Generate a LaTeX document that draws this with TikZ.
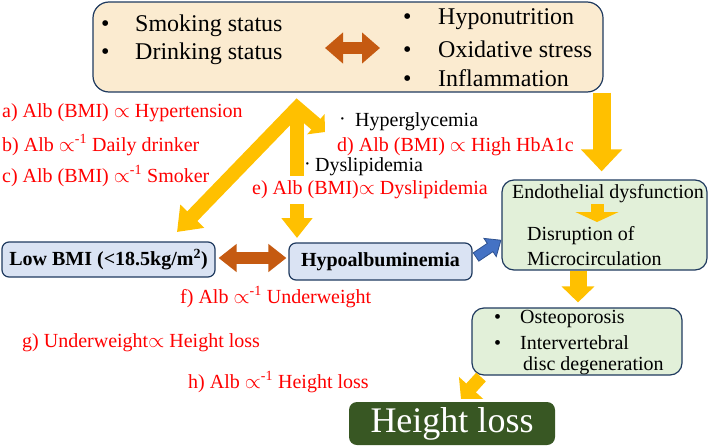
\documentclass[tikz,border=0pt]{standalone}
\usepackage{fontspec}
\setmainfont{Liberation Serif}
\usetikzlibrary{arrows.meta}
\definecolor{yel}{HTML}{FFC000}
\definecolor{org}{HTML}{C55A11}
\definecolor{bord}{HTML}{1F3A5F}
\definecolor{topfill}{HTML}{FBEBD0}
\definecolor{grn}{HTML}{E2F0D9}
\definecolor{blu}{HTML}{DAE3F3}
\definecolor{dkgrn}{HTML}{385723}
\definecolor{bluarr}{HTML}{4472C4}
\definecolor{bluarrb}{HTML}{2F528F}
\begin{document}
\begin{tikzpicture}[x=1pt,y=-1pt,
  box/.style={draw=bord,line width=1.2pt,rounded corners=7pt,inner sep=0pt},
  txt/.style={inner sep=0pt,anchor=west,font=\fontsize{20}{24}\selectfont},
  big/.style={inner sep=0pt,anchor=west,font=\fontsize{24}{28}\selectfont},
  redtxt/.style={txt,text=red},
  boldtxt/.style={font=\bfseries\fontsize{20}{24}\selectfont}
]
\useasboundingbox (0,0) rectangle (708,447);

% boxes
\node[box,fill=topfill,rounded corners=16pt,minimum width=510pt,minimum height=90pt] (top) at (348,47) {};
\node[box,fill=blu,minimum width=213pt,minimum height=35pt,boldtxt] (lowbmi) at (108.5,259.5) {Low BMI (<18.5kg/m\textsuperscript{2})};
\node[box,fill=blu,minimum width=183pt,minimum height=37pt,boldtxt] (hypo) at (380.5,261.5) {Hypoalbuminemia};
\node[box,fill=grn,rounded corners=12pt,minimum width=205pt,minimum height=90pt] (green1) at (604.5,225) {};
\node[box,fill=grn,rounded corners=12pt,minimum width=210pt,minimum height=67pt] (green2) at (577,341.5) {};
\node[box,draw=none,fill=dkgrn,rounded corners=8pt,minimum width=206pt,minimum height=43pt,text=white,font=\fontsize{36}{40}\selectfont] (hl) at (452,423.5) {Height loss};

% top box text
\node[big] (smk) at (101,26) {\makebox[34pt][l]{•}Smoking status};
\node[big] (drk) at (101,54) {\makebox[34pt][l]{•}Drinking status};
\node[big] (hyn) at (403,19) {\makebox[35pt][l]{•}Hyponutrition};
\node[big] (oxs) at (403,49) {\makebox[35pt][l]{•}Oxidative stress};
\node[big] (inf) at (403,78) {\makebox[35pt][l]{•}Inflammation};
\coordinate (da1) at (325,48);
\coordinate (da2) at (380,48);
\draw[org,line width=12pt,{Triangle[width=30pt,length=18pt]}-{Triangle[width=30pt,length=18pt]}] (da1) -- (da2);

% green box texts
\node[txt] (endo) at (512,194) {Endothelial dysfunction};
\node[txt] (disr) at (527,236) {Disruption of};
\node[txt] (micro) at (527,259) {Microcirculation};
\node[txt] (ost) at (494,319) {\makebox[26pt][l]{•}Osteoporosis};
\node[txt] (ivd) at (494,343) {\makebox[26pt][l]{•}Intervertebral};
\node[txt] (disc) at (523,366) {disc degeneration};

% yellow tree from top box
\coordinate (apex) at (297,108);
\coordinate (ltip) at (177,232);
\coordinate (rtip) at (325,132);
\coordinate (vtip) at (297,238);
\draw[yel,line width=14pt,line join=miter,{Triangle[width=32pt,length=22pt]}-{Triangle[width=26pt,length=12pt]}] (ltip) -- (apex) -- (rtip);
\draw[yel,line width=14pt,-{Triangle[width=30pt,length=20pt]}] (apex) -- (vtip);

% right yellow arrow
\draw[yel,line width=18pt,-{Triangle[width=40pt,length=22pt]},shorten >=8pt] ([xshift=-2pt]top.south east) -- ([xshift=-2pt]top.south east |- green1.north);
% inner arrow
\coordinate (ia1) at (597,204);
\coordinate (ia2) at (597,222);
\draw[yel,line width=13pt,-{Triangle[width=43pt,length=10pt]}] (ia1) -- (ia2);
% green1 -> green2
\draw[yel,line width=17pt,-{Triangle[width=32pt,length=16pt]},shorten >=5pt] (green1.south -| 578,0) -- (green2.north -| 578,0);
% green2 -> height loss
\coordinate (hl1) at (481,377);
\coordinate (hl2) at (461,399);
\draw[yel,line width=13pt,-{Triangle[width=32pt,length=15pt]}] (hl1) -- (hl2);

% orange double arrow lowbmi <-> hypo
\draw[org,line width=12pt,{Triangle[width=27pt,length=18pt]}-{Triangle[width=27pt,length=18pt]},shorten <=3pt,shorten >=2pt] ([yshift=1.5pt]lowbmi.east) -- ([yshift=1.5pt]lowbmi.east -| hypo.west);

% blue arrow hypo -> green1
\begin{scope}[shift={(476,257)},rotate=34]
\draw[bluarrb,fill=bluarr,line width=0.8pt,line join=miter] (0,-5) -- (17,-5) -- (17,-11) -- (30,0) -- (17,11) -- (17,5) -- (0,5) -- cycle;
\end{scope}

% labels
\node[redtxt] (la) at (2,113) {a) Alb (BMI) $\propto$ Hypertension};
\node[redtxt] (lb) at (2,145) {b) Alb $\propto$\textsuperscript{-1} Daily drinker};
\node[redtxt] (lc) at (2,176) {c) Alb (BMI) $\propto$\textsuperscript{-1} Smoker};
\node[txt] (dot1) at (339,122) {·};
\node[txt] (hypg) at (355,122) {Hyperglycemia};
\node[redtxt] (ld) at (337,147) {d) Alb (BMI) $\propto$ High HbA1c};
\node[txt] (dot2) at (304,167) {·};
\node[txt] (dysl) at (315,167) {Dyslipidemia};
\node[redtxt,fill=white,inner ysep=5pt] (le) at (252,190) {e) Alb (BMI)$\propto$ Dyslipidemia};
\node[redtxt] (lf) at (180,297) {f) Alb $\propto$\textsuperscript{-1} Underweight};
\node[redtxt] (lg) at (22,343) {g) Underweight$\propto$ Height loss};
\node[redtxt] (lh) at (188,382) {h) Alb $\propto$\textsuperscript{-1} Height loss};
\end{tikzpicture}
\end{document}
